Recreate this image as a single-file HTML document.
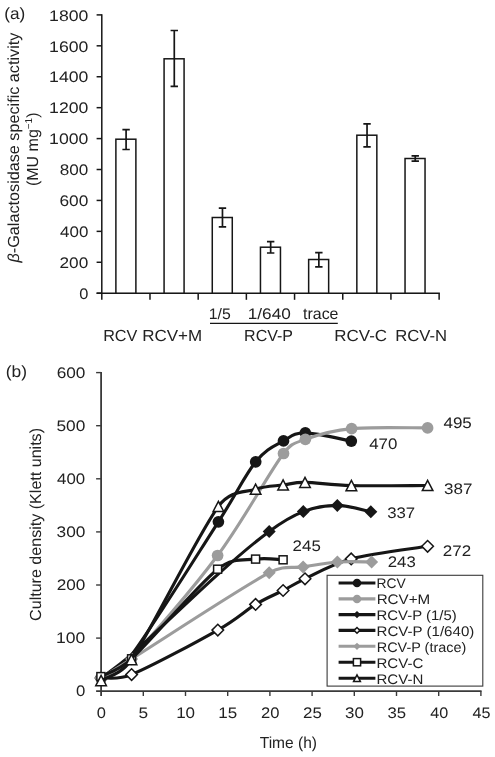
<!DOCTYPE html>
<html><head><meta charset="utf-8"><title>Figure</title>
<style>
html,body{margin:0;padding:0;background:#fff;}
body{width:495px;height:757px;overflow:hidden;font-family:"Liberation Sans",sans-serif;}
svg{display:block;font-family:"Liberation Sans",sans-serif;}
svg text{text-rendering:geometricPrecision;}
#tx{opacity:0.999;}
</style></head><body>
<svg width="495" height="757" viewBox="0 0 495 757">
<rect width="495" height="757" fill="#fff"/>
<g stroke="#161616" stroke-width="1.5" fill="none" stroke-linecap="butt">
<path d="M101.8 14.15 V293.2"/>
<path d="M96.6 293.20 H101.8"/>
<path d="M96.6 262.28 H101.8"/>
<path d="M96.6 231.36 H101.8"/>
<path d="M96.6 200.43 H101.8"/>
<path d="M96.6 169.51 H101.8"/>
<path d="M96.6 138.59 H101.8"/>
<path d="M96.6 107.67 H101.8"/>
<path d="M96.6 76.74 H101.8"/>
<path d="M96.6 45.82 H101.8"/>
<path d="M96.6 14.90 H101.8"/>
<path d="M96.6 293.2 H439.88"/>
<path d="M101.80 293.2 V299.8"/>
<path d="M149.99 293.2 V299.8"/>
<path d="M198.18 293.2 V299.8"/>
<path d="M246.37 293.2 V299.8"/>
<path d="M294.56 293.2 V299.8"/>
<path d="M342.75 293.2 V299.8"/>
<path d="M390.94 293.2 V299.8"/>
<path d="M439.13 293.2 V299.8"/>
</g>
<g stroke="#161616" stroke-width="1.5" fill="#fff">
<rect x="115.89" y="139.2" width="20" height="154.00"/>
<rect x="164.08" y="58.8" width="20" height="234.40"/>
<rect x="212.27" y="217.5" width="20" height="75.70"/>
<rect x="260.46" y="247.2" width="20" height="46.00"/>
<rect x="308.65" y="259.5" width="20" height="33.70"/>
<rect x="356.84" y="135.2" width="20" height="158.00"/>
<rect x="405.04" y="158.5" width="20" height="134.70"/>
</g>
<g stroke="#161616" stroke-width="1.7" fill="none">
<path d="M126.09 129.7 V149.5 M122.39 129.7 H129.79 M122.39 149.5 H129.79"/>
<path d="M174.28 30.5 V86.3 M170.58 30.5 H177.98 M170.58 86.3 H177.98"/>
<path d="M222.47 208.1 V226.8 M218.77 208.1 H226.17 M218.77 226.8 H226.17"/>
<path d="M270.66 241.7 V253.0 M266.96 241.7 H274.36 M266.96 253.0 H274.36"/>
<path d="M318.85 252.7 V266.9 M315.15 252.7 H322.55 M315.15 266.9 H322.55"/>
<path d="M367.04 123.9 V146.9 M363.34 123.9 H370.74 M363.34 146.9 H370.74"/>
<path d="M415.24 155.9 V161.1 M411.54 155.9 H418.94 M411.54 161.1 H418.94"/>
</g>
<path d="M210 323.4 H337.8" stroke="#161616" stroke-width="1.3"/>
<g stroke="#3a3a3a" stroke-width="1.8" fill="none">
<path d="M101.1 371.90 V696.0"/>
<path d="M96.1 691.2 H481.60"/>
</g>
<g stroke="#3a3a3a" stroke-width="1.4" fill="none">
<path d="M96.1 638.10 H101.1"/>
<path d="M96.1 585.00 H101.1"/>
<path d="M96.1 531.90 H101.1"/>
<path d="M96.1 478.80 H101.1"/>
<path d="M96.1 425.70 H101.1"/>
<path d="M96.1 372.60 H101.1"/>
<path d="M143.30 691.2 V696.0"/>
<path d="M185.50 691.2 V696.0"/>
<path d="M227.70 691.2 V696.0"/>
<path d="M269.90 691.2 V696.0"/>
<path d="M312.10 691.2 V696.0"/>
<path d="M354.30 691.2 V696.0"/>
<path d="M396.50 691.2 V696.0"/>
<path d="M438.70 691.2 V696.0"/>
<path d="M480.90 691.2 V696.0"/>
</g>
<path d="M101.10 678.00 C106.17 674.17 120.05 670.24 131.50 655.00 C151.05 628.97 197.70 554.00 218.40 521.80 C237.50 492.09 244.85 475.28 255.70 461.80 C266.55 448.32 275.23 445.72 283.50 440.90 C291.77 436.08 294.00 432.87 305.30 432.90 C316.60 432.93 343.63 439.73 351.30 441.10" fill="none" stroke="#161616" stroke-width="3.1" stroke-linecap="round" stroke-linejoin="round"/>
<circle cx="101.10" cy="678.00" r="5.85" fill="#161616"/>
<circle cx="218.40" cy="521.80" r="5.85" fill="#161616"/>
<circle cx="255.70" cy="461.80" r="5.85" fill="#161616"/>
<circle cx="283.50" cy="440.90" r="5.85" fill="#161616"/>
<circle cx="305.30" cy="432.90" r="5.85" fill="#161616"/>
<circle cx="351.30" cy="441.10" r="5.85" fill="#161616"/>
<path d="M101.10 678.00 C106.18 674.58 118.94 670.81 131.60 657.50 C151.02 637.08 192.28 589.50 217.60 555.50 C242.92 521.50 268.87 472.87 283.50 453.50 C291.37 443.09 294.05 443.45 305.40 439.30 C316.75 435.15 331.23 430.50 351.60 428.60 C371.97 426.70 414.93 428.02 427.60 427.90" fill="none" stroke="#9c9c9c" stroke-width="3.1" stroke-linecap="round" stroke-linejoin="round"/>
<circle cx="101.10" cy="678.00" r="5.85" fill="#9c9c9c"/>
<circle cx="217.60" cy="555.50" r="5.85" fill="#9c9c9c"/>
<circle cx="283.50" cy="453.50" r="5.85" fill="#9c9c9c"/>
<circle cx="305.40" cy="439.30" r="5.85" fill="#9c9c9c"/>
<circle cx="351.60" cy="428.60" r="5.85" fill="#9c9c9c"/>
<circle cx="427.60" cy="427.90" r="5.85" fill="#9c9c9c"/>
<path d="M101.10 678.00 C106.18 674.08 117.20 667.28 131.60 654.50 C151.02 637.27 194.67 595.12 217.60 574.60 C240.53 554.08 254.92 541.90 269.20 531.40 C283.48 520.90 291.95 515.93 303.30 511.60 C314.65 507.27 326.05 505.37 337.30 505.40 C348.55 505.43 365.22 510.73 370.80 511.80" fill="none" stroke="#161616" stroke-width="3.1" stroke-linecap="round" stroke-linejoin="round"/>
<path d="M94.60 678.00 L101.10 671.50 L107.60 678.00 L101.10 684.50Z" fill="#161616"/>
<path d="M262.70 531.40 L269.20 524.90 L275.70 531.40 L269.20 537.90Z" fill="#161616"/>
<path d="M296.80 511.60 L303.30 505.10 L309.80 511.60 L303.30 518.10Z" fill="#161616"/>
<path d="M330.80 505.40 L337.30 498.90 L343.80 505.40 L337.30 511.90Z" fill="#161616"/>
<path d="M364.30 511.80 L370.80 505.30 L377.30 511.80 L370.80 518.30Z" fill="#161616"/>
<path d="M101.10 678.00 C106.18 677.43 117.40 680.43 131.60 674.60 C151.05 666.62 197.13 641.80 217.80 630.10 C237.69 618.84 244.72 611.00 255.60 604.40 C266.48 597.80 274.87 594.77 283.10 590.50 C291.33 586.23 293.74 584.03 305.00 578.80 C316.35 573.53 330.77 564.32 351.20 558.90 C371.63 553.48 414.87 548.40 427.60 546.30" fill="none" stroke="#161616" stroke-width="3.1" stroke-linecap="round" stroke-linejoin="round"/>
<path d="M95.30 678.00 L101.10 672.20 L106.90 678.00 L101.10 683.80Z" fill="#fff" stroke="#161616" stroke-width="1.5"/>
<path d="M125.80 674.60 L131.60 668.80 L137.40 674.60 L131.60 680.40Z" fill="#fff" stroke="#161616" stroke-width="1.5"/>
<path d="M212.00 630.10 L217.80 624.30 L223.60 630.10 L217.80 635.90Z" fill="#fff" stroke="#161616" stroke-width="1.5"/>
<path d="M249.80 604.40 L255.60 598.60 L261.40 604.40 L255.60 610.20Z" fill="#fff" stroke="#161616" stroke-width="1.5"/>
<path d="M277.30 590.50 L283.10 584.70 L288.90 590.50 L283.10 596.30Z" fill="#fff" stroke="#161616" stroke-width="1.5"/>
<path d="M299.20 578.80 L305.00 573.00 L310.80 578.80 L305.00 584.60Z" fill="#fff" stroke="#161616" stroke-width="1.5"/>
<path d="M345.40 558.90 L351.20 553.10 L357.00 558.90 L351.20 564.70Z" fill="#fff" stroke="#161616" stroke-width="1.5"/>
<path d="M421.80 546.30 L427.60 540.50 L433.40 546.30 L427.60 552.10Z" fill="#fff" stroke="#161616" stroke-width="1.5"/>
<path d="M101.10 678.00 C106.18 674.83 116.37 668.54 131.60 659.00 C159.62 641.45 240.62 588.05 269.20 572.70 C284.35 564.56 291.73 568.68 303.10 566.90 C314.47 565.12 325.98 562.82 337.40 562.00 C348.82 561.18 365.90 562.00 371.60 562.00" fill="none" stroke="#9c9c9c" stroke-width="3.1" stroke-linecap="round" stroke-linejoin="round"/>
<path d="M94.60 678.00 L101.10 671.50 L107.60 678.00 L101.10 684.50Z" fill="#9c9c9c"/>
<path d="M125.10 659.00 L131.60 652.50 L138.10 659.00 L131.60 665.50Z" fill="#9c9c9c"/>
<path d="M262.70 572.70 L269.20 566.20 L275.70 572.70 L269.20 579.20Z" fill="#9c9c9c"/>
<path d="M296.60 566.90 L303.10 560.40 L309.60 566.90 L303.10 573.40Z" fill="#9c9c9c"/>
<path d="M330.90 562.00 L337.40 555.50 L343.90 562.00 L337.40 568.50Z" fill="#9c9c9c"/>
<path d="M365.10 562.00 L371.60 555.50 L378.10 562.00 L371.60 568.50Z" fill="#9c9c9c"/>
<path d="M100.90 676.60 C106.02 673.63 118.54 670.82 131.60 658.80 C151.05 640.90 196.93 585.82 217.60 569.20 C232.92 556.88 244.68 560.67 255.60 559.10 C266.52 557.53 278.52 559.68 283.10 559.80" fill="none" stroke="#161616" stroke-width="3.1" stroke-linecap="round" stroke-linejoin="round"/>
<rect x="96.90" y="672.60" width="8.00" height="8.00" fill="#fff" stroke="#161616" stroke-width="1.5"/>
<rect x="127.60" y="654.80" width="8.00" height="8.00" fill="#fff" stroke="#161616" stroke-width="1.5"/>
<rect x="213.60" y="565.20" width="8.00" height="8.00" fill="#fff" stroke="#161616" stroke-width="1.5"/>
<rect x="251.60" y="555.10" width="8.00" height="8.00" fill="#fff" stroke="#161616" stroke-width="1.5"/>
<rect x="279.10" y="555.80" width="8.00" height="8.00" fill="#fff" stroke="#161616" stroke-width="1.5"/>
<path d="M101.10 680.60 C106.17 677.10 121.18 674.92 131.50 659.60 C151.05 630.57 197.72 534.80 218.40 506.40 C230.46 489.84 244.82 492.77 255.60 489.20 C266.38 485.63 274.87 486.13 283.10 485.00 C291.33 483.87 293.97 482.30 305.00 482.40 C316.38 482.50 330.97 485.08 351.40 485.60 C371.83 486.12 414.90 485.52 427.60 485.50" fill="none" stroke="#161616" stroke-width="3.1" stroke-linecap="round" stroke-linejoin="round"/>
<path d="M95.80 685.70 L101.10 675.50 L106.40 685.70Z" fill="#fff" stroke="#161616" stroke-width="1.5" stroke-linejoin="miter"/>
<path d="M126.20 664.70 L131.50 654.50 L136.80 664.70Z" fill="#fff" stroke="#161616" stroke-width="1.5" stroke-linejoin="miter"/>
<path d="M213.10 511.50 L218.40 501.30 L223.70 511.50Z" fill="#fff" stroke="#161616" stroke-width="1.5" stroke-linejoin="miter"/>
<path d="M250.30 494.30 L255.60 484.10 L260.90 494.30Z" fill="#fff" stroke="#161616" stroke-width="1.5" stroke-linejoin="miter"/>
<path d="M277.80 490.10 L283.10 479.90 L288.40 490.10Z" fill="#fff" stroke="#161616" stroke-width="1.5" stroke-linejoin="miter"/>
<path d="M299.70 487.50 L305.00 477.30 L310.30 487.50Z" fill="#fff" stroke="#161616" stroke-width="1.5" stroke-linejoin="miter"/>
<path d="M346.10 490.70 L351.40 480.50 L356.70 490.70Z" fill="#fff" stroke="#161616" stroke-width="1.5" stroke-linejoin="miter"/>
<path d="M422.30 490.60 L427.60 480.40 L432.90 490.60Z" fill="#fff" stroke="#161616" stroke-width="1.5" stroke-linejoin="miter"/>
<rect x="327.1" y="575.3" width="155.70" height="110.80" fill="#fff" stroke="#3a3a3a" stroke-width="1.1"/>
<path d="M338.6 583.0 H375.4" stroke="#161616" stroke-width="3.1" stroke-linecap="butt"/>
<circle cx="357.00" cy="583.00" r="4.27" fill="#161616"/>
<path d="M338.6 598.9 H375.4" stroke="#9c9c9c" stroke-width="3.1" stroke-linecap="butt"/>
<circle cx="357.00" cy="598.90" r="4.27" fill="#9c9c9c"/>
<path d="M338.6 614.6 H375.4" stroke="#161616" stroke-width="3.1" stroke-linecap="butt"/>
<path d="M353.36 614.60 L357.00 610.96 L360.64 614.60 L357.00 618.24Z" fill="#161616"/>
<path d="M338.6 630.4 H375.4" stroke="#161616" stroke-width="3.1" stroke-linecap="butt"/>
<path d="M354.10 630.40 L357.00 627.50 L359.90 630.40 L357.00 633.30Z" fill="#fff" stroke="#161616" stroke-width="1.5"/>
<path d="M338.6 646.3 H375.4" stroke="#9c9c9c" stroke-width="3.1" stroke-linecap="butt"/>
<path d="M353.36 646.30 L357.00 642.66 L360.64 646.30 L357.00 649.94Z" fill="#9c9c9c"/>
<path d="M338.6 662.2 H375.4" stroke="#161616" stroke-width="3.1" stroke-linecap="butt"/>
<rect x="353.40" y="658.60" width="7.20" height="7.20" fill="#fff" stroke="#161616" stroke-width="1.5"/>
<path d="M338.6 678.2 H375.4" stroke="#161616" stroke-width="3.1" stroke-linecap="butt"/>
<path d="M353.61 681.46 L357.00 674.94 L360.39 681.46Z" fill="#fff" stroke="#161616" stroke-width="1.5" stroke-linejoin="miter"/>
<g id="tx">
<text id="ya0" x="79.20" y="298.95" font-size="15.3" textLength="9.13" lengthAdjust="spacingAndGlyphs" fill="#222">0</text>
<text id="ya1" x="59.51" y="268.03" font-size="15.3" textLength="28.72" lengthAdjust="spacingAndGlyphs" fill="#222">200</text>
<text id="ya2" x="60.06" y="237.11" font-size="15.3" textLength="28.26" lengthAdjust="spacingAndGlyphs" fill="#222">400</text>
<text id="ya3" x="59.43" y="206.18" font-size="15.3" textLength="28.85" lengthAdjust="spacingAndGlyphs" fill="#222">600</text>
<text id="ya4" x="59.65" y="175.26" font-size="15.3" textLength="28.52" lengthAdjust="spacingAndGlyphs" fill="#222">800</text>
<text id="ya5" x="49.10" y="144.34" font-size="15.3" textLength="39.26" lengthAdjust="spacingAndGlyphs" fill="#222">1000</text>
<text id="ya6" x="49.10" y="113.42" font-size="15.3" textLength="39.26" lengthAdjust="spacingAndGlyphs" fill="#222">1200</text>
<text id="ya7" x="49.10" y="82.49" font-size="15.3" textLength="39.26" lengthAdjust="spacingAndGlyphs" fill="#222">1400</text>
<text id="ya8" x="49.10" y="51.57" font-size="15.3" textLength="39.26" lengthAdjust="spacingAndGlyphs" fill="#222">1600</text>
<text id="ya9" x="49.10" y="20.65" font-size="15.3" textLength="39.26" lengthAdjust="spacingAndGlyphs" fill="#222">1800</text>
<text id="xa1" x="103.18" y="341.10" font-size="16.0" textLength="34.19" lengthAdjust="spacingAndGlyphs" fill="#222">RCV</text>
<text id="xa2" x="142.21" y="341.10" font-size="16.0" textLength="59.94" lengthAdjust="spacingAndGlyphs" fill="#222">RCV+M</text>
<text id="xa3" x="208.78" y="319.20" font-size="15.3" textLength="22.00" lengthAdjust="spacingAndGlyphs" fill="#222">1/5</text>
<text id="xa4" x="247.75" y="319.20" font-size="15.3" textLength="43.10" lengthAdjust="spacingAndGlyphs" fill="#222">1/640</text>
<text id="xa5" x="303.09" y="319.20" font-size="16.0" textLength="35.37" lengthAdjust="spacingAndGlyphs" fill="#222">trace</text>
<text id="xa6" x="244.14" y="341.00" font-size="16.0" textLength="48.93" lengthAdjust="spacingAndGlyphs" fill="#222">RCV-P</text>
<text id="xa7" x="334.37" y="341.00" font-size="16.0" textLength="52.68" lengthAdjust="spacingAndGlyphs" fill="#222">RCV-C</text>
<text id="xa8" x="395.18" y="341.00" font-size="16.0" textLength="51.82" lengthAdjust="spacingAndGlyphs" fill="#222">RCV-N</text>
<text id="pa" x="4.20" y="18.80" font-size="16.4" textLength="21.04" lengthAdjust="spacingAndGlyphs" fill="#222">(a)</text>
<text id="pb" x="5.76" y="377.30" font-size="16.4" textLength="21.24" lengthAdjust="spacingAndGlyphs" fill="#222">(b)</text>
<text id="yl1" transform="translate(19.40 262.39) rotate(-90)" font-size="16.0" textLength="229.73" lengthAdjust="spacingAndGlyphs" fill="#222"><tspan font-style="italic">β</tspan>-Galactosidase specific activity</text>
<text id="yl2" transform="translate(38.00 186.03) rotate(-90)" font-size="16.0" textLength="73.54" lengthAdjust="spacingAndGlyphs" fill="#222">(MU mg<tspan font-size="10" dy="-5.8">−1</tspan><tspan dy="5.8">)</tspan></text>
<text id="yb0" x="76.10" y="696.45" font-size="15.3" textLength="9.32" lengthAdjust="spacingAndGlyphs" fill="#222">0</text>
<text id="yb1" x="56.09" y="643.35" font-size="15.3" textLength="29.25" lengthAdjust="spacingAndGlyphs" fill="#222">100</text>
<text id="yb2" x="56.76" y="590.25" font-size="15.3" textLength="28.66" lengthAdjust="spacingAndGlyphs" fill="#222">200</text>
<text id="yb3" x="56.56" y="537.15" font-size="15.3" textLength="28.86" lengthAdjust="spacingAndGlyphs" fill="#222">300</text>
<text id="yb4" x="57.14" y="484.05" font-size="15.3" textLength="28.10" lengthAdjust="spacingAndGlyphs" fill="#222">400</text>
<text id="yb5" x="56.45" y="430.95" font-size="15.3" textLength="28.87" lengthAdjust="spacingAndGlyphs" fill="#222">500</text>
<text id="yb6" x="56.66" y="377.85" font-size="15.3" textLength="28.74" lengthAdjust="spacingAndGlyphs" fill="#222">600</text>
<text id="xb0" x="96.80" y="718.30" font-size="15.3" textLength="9.17" lengthAdjust="spacingAndGlyphs" fill="#222">0</text>
<text id="xb1" x="138.62" y="718.30" font-size="15.3" textLength="9.64" lengthAdjust="spacingAndGlyphs" fill="#222">5</text>
<text id="xb2" x="176.15" y="718.30" font-size="15.3" textLength="18.93" lengthAdjust="spacingAndGlyphs" fill="#222">10</text>
<text id="xb3" x="218.36" y="718.30" font-size="15.3" textLength="18.89" lengthAdjust="spacingAndGlyphs" fill="#222">15</text>
<text id="xb4" x="260.99" y="718.30" font-size="15.3" textLength="18.43" lengthAdjust="spacingAndGlyphs" fill="#222">20</text>
<text id="xb5" x="303.01" y="718.30" font-size="15.3" textLength="18.79" lengthAdjust="spacingAndGlyphs" fill="#222">25</text>
<text id="xb6" x="345.06" y="718.30" font-size="15.3" textLength="18.86" lengthAdjust="spacingAndGlyphs" fill="#222">30</text>
<text id="xb7" x="387.41" y="718.30" font-size="15.3" textLength="18.65" lengthAdjust="spacingAndGlyphs" fill="#222">35</text>
<text id="xb8" x="430.21" y="718.30" font-size="15.3" textLength="17.99" lengthAdjust="spacingAndGlyphs" fill="#222">40</text>
<text id="xb9" x="472.44" y="718.30" font-size="15.3" textLength="17.99" lengthAdjust="spacingAndGlyphs" fill="#222">45</text>
<text id="xlb" x="259.77" y="748.30" font-size="16.0" textLength="57.18" lengthAdjust="spacingAndGlyphs" fill="#222">Time (h)</text>
<text id="ylb" transform="translate(40.60 620.89) rotate(-90)" font-size="16.0" textLength="192.89" lengthAdjust="spacingAndGlyphs" fill="#222">Culture density (Klett units)</text>
<text id="v495" x="443.43" y="427.90" font-size="15.3" textLength="28.41" lengthAdjust="spacingAndGlyphs" fill="#222">495</text>
<text id="v470" x="369.20" y="448.80" font-size="15.3" textLength="28.19" lengthAdjust="spacingAndGlyphs" fill="#222">470</text>
<text id="v387" x="444.14" y="493.90" font-size="15.3" textLength="28.39" lengthAdjust="spacingAndGlyphs" fill="#222">387</text>
<text id="v337" x="387.16" y="517.60" font-size="15.3" textLength="28.08" lengthAdjust="spacingAndGlyphs" fill="#222">337</text>
<text id="v245" x="292.61" y="551.10" font-size="15.3" textLength="28.19" lengthAdjust="spacingAndGlyphs" fill="#222">245</text>
<text id="v243" x="387.79" y="566.90" font-size="15.3" textLength="28.03" lengthAdjust="spacingAndGlyphs" fill="#222">243</text>
<text id="v272" x="442.78" y="555.60" font-size="15.3" textLength="28.36" lengthAdjust="spacingAndGlyphs" fill="#222">272</text>
<text id="lg0" x="376.57" y="588.40" font-size="13.8" textLength="29.21" lengthAdjust="spacingAndGlyphs" fill="#222">RCV</text>
<text id="lg1" x="376.66" y="604.30" font-size="13.8" textLength="53.53" lengthAdjust="spacingAndGlyphs" fill="#222">RCV+M</text>
<text id="lg2" x="376.57" y="620.00" font-size="13.8" textLength="80.15" lengthAdjust="spacingAndGlyphs" fill="#222">RCV-P (1/5)</text>
<text id="lg3" x="376.55" y="635.80" font-size="13.8" textLength="97.75" lengthAdjust="spacingAndGlyphs" fill="#222">RCV-P (1/640)</text>
<text id="lg4" x="376.72" y="651.70" font-size="13.8" textLength="89.59" lengthAdjust="spacingAndGlyphs" fill="#222">RCV-P (trace)</text>
<text id="lg5" x="376.53" y="667.60" font-size="13.8" textLength="46.79" lengthAdjust="spacingAndGlyphs" fill="#222">RCV-C</text>
<text id="lg6" x="376.53" y="683.60" font-size="13.8" textLength="46.74" lengthAdjust="spacingAndGlyphs" fill="#222">RCV-N</text>
</g>
</svg>
</body></html>
